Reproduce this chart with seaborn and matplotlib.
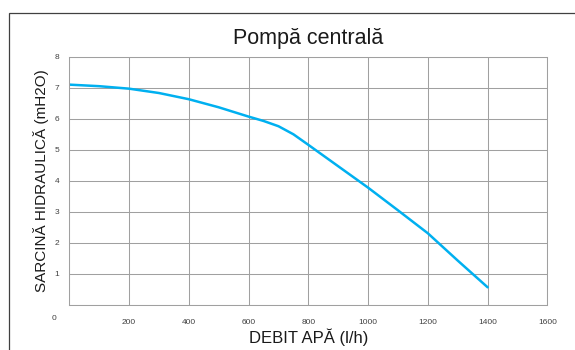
import matplotlib
matplotlib.use("Agg")
import matplotlib.pyplot as plt
from matplotlib.patches import Rectangle
import pandas as pd
import seaborn as sns

# date
debit = [0, 100, 200, 300, 400, 500, 600, 650, 700, 750, 800, 900, 1000, 1100, 1200, 1300, 1400]
sarcina = [7.10, 7.05, 6.97, 6.83, 6.63, 6.37, 6.07, 5.93, 5.76, 5.50, 5.16, 4.47, 3.78, 3.05, 2.31, 1.43, 0.57]
x_ticks = [0, 200, 400, 600, 800, 1000, 1200, 1400, 1600]
y_ticks = [0, 1, 2, 3, 4, 5, 6, 7, 8]

titlu = "Pompă centrală"
eticheta_x = "DEBIT APĂ (l/h)"
eticheta_y = "SARCINĂ HIDRAULICĂ (mH2O)"

sns.set_style("white")
plt.rcParams["font.family"] = ["Liberation Sans", "DejaVu Sans"]

df = pd.DataFrame({"debit": debit, "sarcina": sarcina})

fig = plt.figure(figsize=(5.75, 3.5), dpi=100)
ax = fig.add_axes([0.1205, 0.1286, 0.952 - 0.1205, 0.838 - 0.1286])

sns.lineplot(data=df, x="debit", y="sarcina", ax=ax, color="#00b0f0", linewidth=1.8)

grid_col = "#a0a0a0"
ax.set_xlim(0, 1600)
ax.set_ylim(0, 8)
ax.set_xticks(x_ticks)
ax.set_yticks(y_ticks)
ax.set_xticklabels([""] + [str(v) for v in x_ticks[1:]])
ax.set_yticklabels([""] + [str(v) for v in y_ticks[1:]])
ax.grid(True, color=grid_col, linewidth=0.75)
for s in ax.spines.values():
    s.set_color(grid_col)
    s.set_linewidth(0.75)
ax.tick_params(axis="both", labelsize=6, colors="#808080", labelcolor="#404040",
               length=3.5, width=0.75, direction="out")
ax.tick_params(axis="x", pad=6.5)
ax.tick_params(axis="y", pad=3.5)
ax.annotate("0", xy=(0, 0), xycoords="data", xytext=(-9, -9.5), textcoords="offset points",
            ha="right", va="center", fontsize=6, color="#404040")

ax.set_xlabel(eticheta_x, fontsize=12, color="#1a1a1a", labelpad=2)
ax.set_ylabel(eticheta_y, fontsize=11, color="#1a1a1a", labelpad=4)
ax.set_title(titlu, fontsize=15.5, color="#1a1a1a", pad=9)

fig.add_artist(Rectangle((9 / 575, -0.2), 2, 1.2 - 13 / 350, transform=fig.transFigure,
                         fill=False, edgecolor="#404040", linewidth=0.9, clip_on=False))

fig.savefig("out.png", dpi=100)
